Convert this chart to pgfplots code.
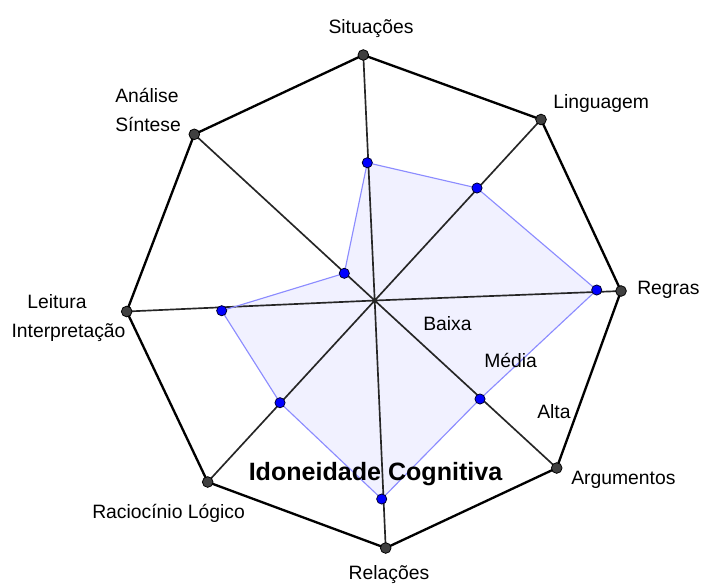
\documentclass[border=0pt]{standalone}
\usepackage{pgfplots}
\pgfplotsset{compat=1.18}
\usepackage{fontspec}
\setmainfont{Liberation Sans}
\definecolor{outerpt}{HTML}{404040}
\definecolor{spoke}{HTML}{262626}
\definecolor{blueline}{HTML}{8C8CFF}
\definecolor{bluefill}{HTML}{F1F1FF}
\definecolor{bluept}{HTML}{0000FF}
\tikzset{lab/.style={inner sep=0pt, font=\fontsize{14.5}{17}\selectfont}}
\begin{document}
\begin{tikzpicture}
\useasboundingbox (0,0) rectangle (526.5pt,437.25pt);
\begin{axis}[at={(0,0)}, anchor=south west, x=0.75pt, y=0.75pt,
  xmin=0, xmax=702, ymin=0, ymax=583, y dir=reverse,
  hide axis, clip=false]
% value polygon (fill)
\addplot[fill=bluefill, draw=none] coordinates {
 (367.3,162.7) (477,188) (596.7,290) (480,399) (381.7,499) (280,402.7) (221.7,310.7) (344.3,273.3)} -- cycle;
% spokes
\addplot[spoke, line width=1.25pt] coordinates {
 (374.7,300.5) (363.3,55) (374.7,300.5) (541,119.5) (374.7,300.5) (621,291)
 (374.7,300.5) (556.7,468) (374.7,300.5) (385.7,548) (374.7,300.5) (207.7,482)
 (374.7,300.5) (126.7,311.5) (374.7,300.5) (194.3,134.3)};
% outer octagon
\addplot[black, line width=1.75pt] coordinates {
 (363.3,55) (541,119.5) (621,291) (556.7,468) (385.7,548) (207.7,482) (126.7,311.5) (194.3,134.3) (363.3,55)};
% value polygon outline
\addplot[blueline, line width=0.85pt] coordinates {
 (367.3,162.7) (477,188) (596.7,290) (480,399) (381.7,499) (280,402.7) (221.7,310.7) (344.3,273.3) (367.3,162.7)};
% outer points
\addplot[only marks, mark=*, mark size=4pt, mark options={fill=outerpt, draw=black, line width=0.6pt}] coordinates {
 (363.3,55) (541,119.5) (621,291) (556.7,468) (385.7,548) (207.7,482) (126.7,311.5) (194.3,134.3)};
% value points
\addplot[only marks, mark=*, mark size=3.8pt, mark options={fill=bluept, draw=black!80!blue, line width=0.6pt}] coordinates {
 (367.3,162.7) (477,188) (596.7,290) (480,399) (381.7,499) (280,402.7) (221.7,310.7) (344.3,273.3)};
% labels
\node[lab, anchor=base] at (axis cs:371,33) {Situações};
\node[lab, anchor=base west] at (axis cs:553,108) {Linguagem};
\node[lab, anchor=base west] at (axis cs:637,294) {Regras};
\node[lab, anchor=base west] at (axis cs:571,484) {Argumentos};
\node[lab, anchor=base] at (axis cs:389,579) {Relações};
\node[lab, anchor=base west] at (axis cs:92,518) {Raciocínio Lógico};
\node[lab, anchor=base] at (axis cs:57,308) {Leitura};
\node[lab, anchor=base] at (axis cs:68.5,337) {Interpretação};
\node[lab, anchor=base west] at (axis cs:115,102) {Análise};
\node[lab, anchor=base west] at (axis cs:115,131) {Síntese};
\node[lab, anchor=base west] at (axis cs:423,330) {Baixa};
\node[lab, anchor=base west] at (axis cs:484,367) {Média};
\node[lab, anchor=base west] at (axis cs:537,418) {Alta};
\node[inner sep=0pt, anchor=base, font=\fontsize{18.8}{22}\selectfont\bfseries] at (axis cs:375.5,480) {Idoneidade Cognitiva};
\end{axis}
\end{tikzpicture}
\end{document}
